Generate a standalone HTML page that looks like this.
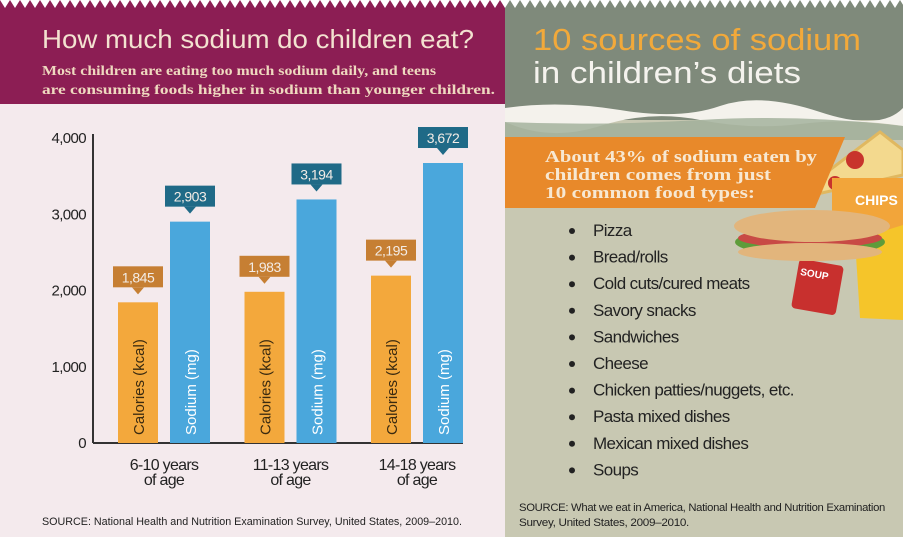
<!DOCTYPE html>
<html><head><meta charset="utf-8"><style>
body{margin:0;width:903px;height:537px;overflow:hidden;background:#fff}
svg{display:block;font-family:"Liberation Sans",sans-serif}
</style></head><body>
<svg id="s" width="903" height="537" viewBox="0 0 903 537">
<defs>
<pattern id="zz" width="10" height="9" patternUnits="userSpaceOnUse"><polygon points="0,0 10,0 5,8" fill="#fff"/></pattern>
</defs>
<rect x="0" y="0" width="505" height="537" fill="#f4eaed"/>
<rect x="0" y="0" width="505" height="104" fill="#8c1e54"/>
<rect x="505" y="0" width="398" height="537" fill="#c8c8b2"/>
<rect x="505" y="0" width="398" height="120" fill="#7f8a7b"/>
<path d="M505,108 Q560,100 620,110 T720,106 T820,112 T903,108 L903,126 Q850,118 800,124 T700,120 T600,126 T505,122Z" fill="#f4f2ec"/>
<path d="M505,122 Q600,126 700,120 T903,126 L903,140 L505,140Z" fill="#9fae98" opacity="0.8"/>
<rect x="0" y="0" width="903" height="9" fill="url(#zz)"/>

<text x="42" y="48" font-size="26" textLength="432" lengthAdjust="spacingAndGlyphs" fill="#f3e2d0">How much sodium do children eat?</text>
<text font-family="Liberation Serif,serif" font-weight="bold" font-size="14" fill="#efd9bf"><tspan x="42" y="75" textLength="394" lengthAdjust="spacingAndGlyphs">Most children are eating too much sodium daily, and teens</tspan><tspan x="42" y="94" textLength="453" lengthAdjust="spacingAndGlyphs">are consuming foods higher in sodium than younger children.</tspan></text>

<text x="533" y="50" font-size="31" textLength="328" lengthAdjust="spacingAndGlyphs" fill="#f2a93a">10 sources of sodium</text>
<text x="533" y="83" font-size="31" textLength="268" lengthAdjust="spacingAndGlyphs" fill="#f5f3ee">in children’s diets</text>

<g>
<polygon points="790,200 880,132 903,150 903,175" fill="#f3d98e" stroke="#e0b860" stroke-width="3"/>
<circle cx="855" cy="160" r="9" fill="#c8342c"/><circle cx="835" cy="183" r="7" fill="#c8342c"/>
<rect x="832" y="178" width="71" height="55" fill="#f2a53a"/>
<text x="855" y="205" font-size="14" font-weight="bold" fill="#fff">CHIPS</text>
<polygon points="855,240 903,225 903,320 860,318" fill="#f5c52a"/>
<rect x="795" y="262" width="45" height="50" rx="4" fill="#c8302e" transform="rotate(10 817 287)"/>
<text x="798" y="278" font-size="10" font-weight="bold" fill="#fff" transform="rotate(10 817 287)">SOUP</text>
<ellipse cx="810" cy="242" rx="75" ry="14" fill="#5e9c3a"/>
<ellipse cx="810" cy="238" rx="72" ry="10" fill="#c84a45"/>
<ellipse cx="812" cy="226" rx="78" ry="16" fill="#e2b57c"/>
<ellipse cx="810" cy="252" rx="72" ry="9" fill="#e2b57c"/>
</g>

<polygon points="505,137 845,137 815,208 505,208" fill="#e8892a"/>
<text font-family="Liberation Serif,serif" font-weight="bold" font-size="17" fill="#f7e8d2"><tspan x="545" y="162" textLength="272" lengthAdjust="spacingAndGlyphs">About 43% of sodium eaten by</tspan><tspan x="545" y="180" textLength="226" lengthAdjust="spacingAndGlyphs">children comes from just</tspan><tspan x="545" y="198" textLength="210" lengthAdjust="spacingAndGlyphs">10 common food types:</tspan></text>

<g id="list"></g>
<text font-size="11" fill="#222" letter-spacing="-0.3"><tspan x="519" y="511" textLength="366" lengthAdjust="spacingAndGlyphs">SOURCE: What we eat in America, National Health and Nutrition Examination</tspan><tspan x="519" y="526" textLength="170" lengthAdjust="spacingAndGlyphs">Survey, United States, 2009–2010.</tspan></text>

<g id="chart"></g>
<text x="42" y="525" font-size="11" fill="#222" textLength="420" lengthAdjust="spacingAndGlyphs">SOURCE: National Health and Nutrition Examination Survey, United States, 2009–2010.</text>
</svg>
<script>
const categories=["6-10 years","11-13 years","14-18 years"];
const calories=[1845,1983,2195];
const sodium=[2903,3194,3672];
const yTicks=[0,1000,2000,3000,4000];
const yTickLabels=["0","1,000","2,000","3,000","4,000"];
const foods=["Pizza","Bread/rolls","Cold cuts/cured meats","Savory snacks","Sandwiches","Cheese","Chicken patties/nuggets, etc.","Pasta mixed dishes","Mexican mixed dishes","Soups"];

const NS="http://www.w3.org/2000/svg";
function mk(t,a,p){const e=document.createElementNS(NS,t);for(const k in a)e.setAttribute(k,a[k]);p.appendChild(e);return e;}
const g=document.getElementById('chart');
const y0=443,yMax=138,vMax=4000;
const yS=v=>y0-(v/vMax)*(y0-yMax);
const xG=i=>118+i*126.5;
const ax=mk('line',{x1:93,y1:134,x2:93,y2:y0,stroke:'#333','stroke-width':2},g);


const bx=mk('line',{x1:93,y1:y0,x2:463,y2:y0,stroke:'#333','stroke-width':2},g);


yTicks.forEach((v,i)=>{
 const t=mk('text',{x:86,y:yS(v)+5,'text-anchor':'end','font-size':15,fill:'#222','letter-spacing':'-0.6'},g);
 t.textContent=yTickLabels[i];
 
 
});
function label(cx,top,val,col){
 const bw=50,bh=21,by=top-36;
 const r=mk('rect',{x:cx-bw/2,y:by,width:bw,height:bh,fill:col},g);
 
 
 mk('polygon',{points:`${cx-6},${by+bh} ${cx+6},${by+bh} ${cx},${by+bh+7}`,fill:col},g);
 const t=mk('text',{x:cx,y:by+16,'text-anchor':'middle','font-size':14,fill:'#f3ece6','letter-spacing':'-0.5'},g);
 t.textContent=val.toLocaleString('en-US');
 
 
}
categories.forEach((c,i)=>{
 const x=xG(i);
 const b1=mk('rect',{x:x,y:yS(calories[i]),width:40,height:y0-yS(calories[i]),fill:'#f3a83c'},g);
 
 
 const b2=mk('rect',{x:x+52,y:yS(sodium[i]),width:40,height:y0-yS(sodium[i]),fill:'#4aa7dc'},g);
 
 
 const t1=mk('text',{x:0,y:0,'font-size':15,fill:'#3a2a10',transform:`translate(${x+26},${y0-8}) rotate(-90)`},g);
 t1.textContent='Calories (kcal)';
 
 
 const t2=mk('text',{x:0,y:0,'font-size':15,fill:'#fff',transform:`translate(${x+78},${y0-8}) rotate(-90)`},g);
 t2.textContent='Sodium (mg)';
 
 
 label(x+20,yS(calories[i]),calories[i],'#c67f33');
 label(x+72,yS(sodium[i]),sodium[i],'#1f6a87');
 const ct=mk('text',{x:x+46,y:470,'text-anchor':'middle','font-size':16,fill:'#222','letter-spacing':'-0.7'},g);
 
 
 const s1=mk('tspan',{x:x+46,y:470},ct);
 s1.textContent=c;
 const s2=mk('tspan',{x:x+46,y:485},ct);s2.textContent='of age';
});
const L=document.getElementById('list');
foods.forEach((f,i)=>{
 const y=236+i*26.6;
 mk('circle',{cx:572,cy:y-5,r:3,fill:'#222'},L);
 const t=mk('text',{x:593,y:y,'font-size':17,fill:'#222','letter-spacing':'-0.6'},L);
 t.textContent=f;
 
 
});
</script>
</body></html>
